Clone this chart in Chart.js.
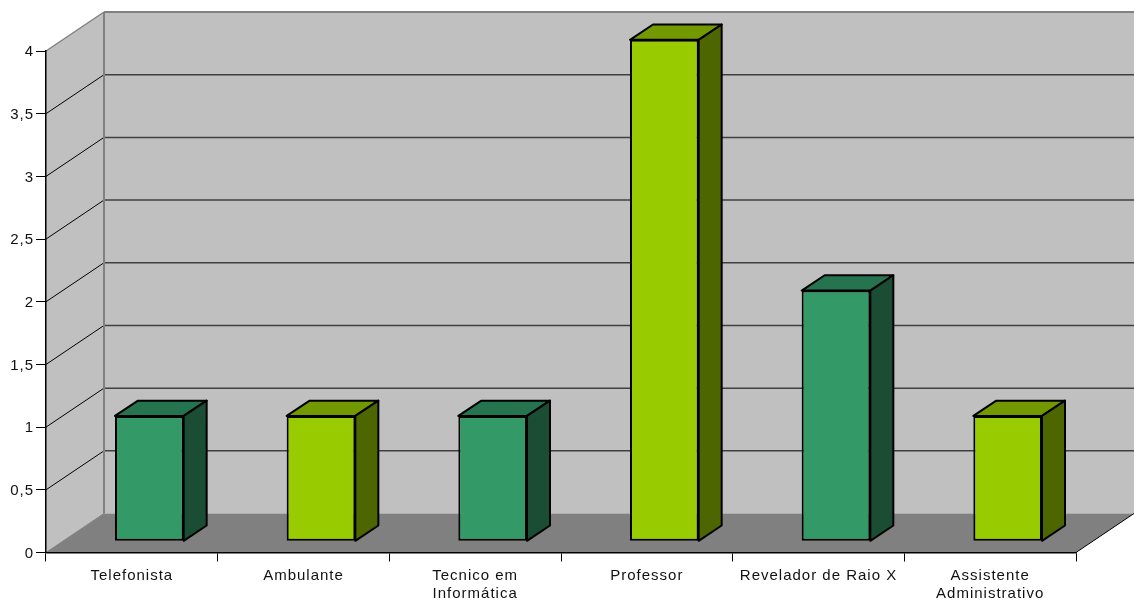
<!DOCTYPE html>
<html lang="pt">
<head>
    <meta charset="UTF-8">
    <title>Profissões</title>
    <script src="https://cdn.jsdelivr.net/npm/chart.js"></script>
    <style>
        html, body { margin: 0; padding: 0; background: #fff; }
        #chart { display: block; }
    </style>
</head>
<body>
    <canvas id="chart" width="1134" height="601"></canvas>
    <script>
        const categories = ['Telefonista', 'Ambulante', ['Tecnico em', 'Informática'], 'Professor', 'Revelador de Raio X', ['Assistente', 'Administrativo']];
        const values = [1, 1, 1, 4, 2, 1];
        const yTickLabels = ['0', '0,5', '1', '1,5', '2', '2,5', '3', '3,5', '4'];

        const frontColors = ['#339966', '#99CC00', '#339966', '#99CC00', '#339966', '#99CC00'];
        const topColors = ['#267350', '#739900', '#267350', '#739900', '#267350', '#739900'];
        const sideColors = ['#1A4D33', '#4D6600', '#1A4D33', '#4D6600', '#1A4D33', '#4D6600'];

        // depth of the fake 3D box, bars sit 30% into it and take 40% of it
        const depthX = 58;
        const depthY = 39;
        const barShiftX = 17.5;
        const barShiftY = 11.2;
        const barDepthX = 23;
        const barDepthY = 15.3;

        function poly(ctx, pts, fill, stroke, width) {
            ctx.beginPath();
            pts.forEach((p, i) => i ? ctx.lineTo(p[0], p[1]) : ctx.moveTo(p[0], p[1]));
            ctx.closePath();
            if (fill) {
                ctx.fillStyle = fill;
                ctx.fill();
            }
            if (stroke) {
                ctx.strokeStyle = stroke;
                ctx.lineWidth = width;
                ctx.stroke();
            }
        }

        function line(ctx, x1, y1, x2, y2, color, width) {
            ctx.beginPath();
            ctx.moveTo(x1, y1);
            ctx.lineTo(x2, y2);
            ctx.strokeStyle = color;
            ctx.lineWidth = width;
            ctx.stroke();
        }

        const walls = {
            id: 'walls',
            beforeDraw(chart) {
                const ctx = chart.ctx;
                const a = chart.chartArea;
                ctx.letterSpacing = '1px';
                ctx.save();
                // back wall, side wall, floor
                poly(ctx, [[a.left + depthX, a.top - depthY], [a.right + depthX, a.top - depthY], [a.right + depthX, a.bottom - depthY], [a.left + depthX, a.bottom - depthY]], '#C0C0C0');
                poly(ctx, [[a.left, a.top], [a.left + depthX, a.top - depthY], [a.left + depthX, a.bottom - depthY], [a.left, a.bottom]], '#C0C0C0');
                poly(ctx, [[a.left, a.bottom], [a.right, a.bottom], [a.right + depthX, a.bottom - depthY], [a.left + depthX, a.bottom - depthY]], '#808080');

                chart.scales.y.ticks.forEach(t => {
                    const y = chart.scales.y.getPixelForValue(t.value);
                    if (t.value === 0) return;
                    const top = t.value === 4;
                    line(ctx, a.left, y, a.left + depthX, y - depthY, top ? '#808080' : '#000', top ? 1.5 : 1);
                    line(ctx, a.left + depthX, y - depthY, a.right + depthX, y - depthY, top ? '#808080' : '#404040', top ? 2 : 1.5);
                });
                line(ctx, a.left + depthX, a.top - depthY, a.left + depthX, a.bottom - depthY, '#808080', 2);
                line(ctx, a.left, a.bottom, a.left + depthX, a.bottom - depthY, '#808080', 1);
                line(ctx, a.right, a.bottom, a.right + depthX, a.bottom - depthY, '#000', 1);
                ctx.restore();
            },
            beforeDatasetDraw(chart) {
                const ctx = chart.ctx;
                ctx.save();
                ctx.translate(barShiftX, -barShiftY);
                ctx.lineJoin = 'round';
                chart.getDatasetMeta(0).data.forEach((bar, i) => {
                    const l = bar.x - bar.width / 2;
                    const r = bar.x + bar.width / 2;
                    poly(ctx, [[l, bar.y], [l + barDepthX, bar.y - barDepthY], [r + barDepthX, bar.y - barDepthY], [r, bar.y]], topColors[i], '#000', 2);
                    poly(ctx, [[r, bar.y], [r + barDepthX, bar.y - barDepthY], [r + barDepthX, bar.base - barDepthY], [r, bar.base]], sideColors[i], '#000', 2);
                });
            },
            afterDatasetDraw(chart) {
                chart.ctx.restore();
            }
        };

        const tickFont = { family: '"Liberation Sans", Arial, sans-serif', size: 15, lineHeight: 1.2 };

        new Chart(document.getElementById('chart'), {
            type: 'bar',
            data: {
                labels: categories,
                datasets: [{
                    data: values,
                    backgroundColor: frontColors,
                    borderColor: '#000',
                    borderWidth: 2,
                    borderSkipped: false,
                    barPercentage: 1,
                    categoryPercentage: 0.4,
                    clip: false
                }]
            },
            options: {
                responsive: false,
                animation: false,
                events: [],
                layout: { padding: { top: 51, right: 58, left: 0, bottom: 0 } },
                plugins: { legend: { display: false }, tooltip: { enabled: false } },
                scales: {
                    x: {
                        afterFit: s => { s.height = 48.5; },
                        grid: { offset: true, drawOnChartArea: false, tickLength: 9, color: '#000', tickWidth: 1 },
                        border: { color: '#000', width: 1.5 },
                        ticks: { color: '#111', font: tickFont, padding: 5, maxRotation: 0, minRotation: 0, autoSkip: false }
                    },
                    y: {
                        min: 0,
                        max: 4,
                        afterFit: s => { s.width = 46; },
                        grid: { drawOnChartArea: false, tickLength: 10, color: '#000', tickWidth: 1 },
                        border: { color: '#000', width: 1.5 },
                        ticks: {
                            stepSize: 0.5,
                            color: '#111',
                            font: tickFont,
                            padding: 2,
                            labelOffset: 1,
                            callback: (v, i) => yTickLabels[i]
                        }
                    }
                }
            },
            plugins: [walls]
        });
    </script>
</body>
</html>
